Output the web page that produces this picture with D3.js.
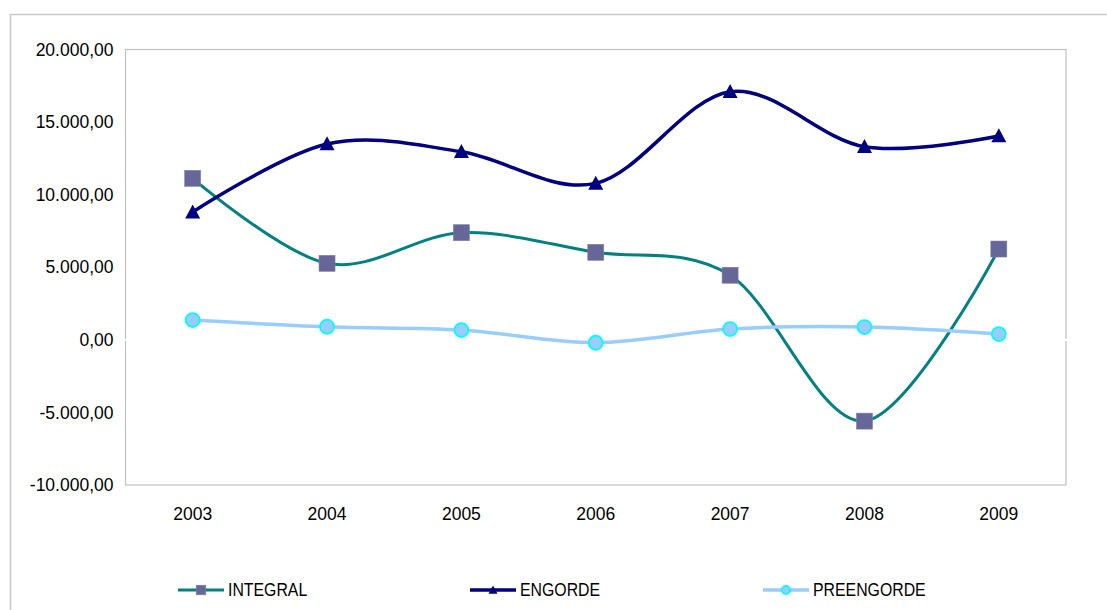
<!DOCTYPE html>
<html>
<head>
<meta charset="utf-8">
<script src="https://cdn.jsdelivr.net/npm/d3@7"></script>
<style>
  html, body { margin: 0; padding: 0; background: #fff; }
  svg { display: block; }
  text { font-family: Arial, "Liberation Sans", sans-serif; fill: #000; }
</style>
</head>
<body>
<svg id="chart" width="1107" height="610"></svg>
<script>
const years = ["2003", "2004", "2005", "2006", "2007", "2008", "2009"];
const integral   = [11125, 5270, 7380, 6030, 4450, -5600, 6255];
const engorde    = [8800, 13490, 12960, 10780, 17090, 13300, 14040];
const preengorde = [1364, 900, 675, -200, 744, 882, 400];
const yTicks = [-10000, -5000, 0, 5000, 10000, 15000, 20000];
const seriesNames = ["INTEGRAL", "ENGORDE", "PREENGORDE"];

const svg = d3.select("#chart");
const W = 1107, H = 610;
const plotLeft = 125.5, plotRight = 1066, plotTop = 49.5, plotBottom = 485;

const loc = d3.formatLocale({decimal: ",", thousands: ".", grouping: [3], currency: ["", ""], minus: "-"});
const fmt = loc.format(",.2f");

const x = d3.scaleBand().domain(years).range([plotLeft, plotRight]);
const y = d3.scaleLinear().domain([-10000, 20000]).range([plotBottom, plotTop]);
const cx = d => x(d) + x.bandwidth() / 2;

// outer frame
svg.append("rect").attr("x", 10.5).attr("y", 14.5).attr("width", W + 20).attr("height", H + 20)
  .attr("fill", "#fff").attr("stroke", "#c8c8c8").attr("stroke-width", 1.5);

// plot area border
svg.append("rect").attr("x", plotLeft).attr("y", plotTop).attr("width", plotRight - plotLeft).attr("height", plotBottom - plotTop)
  .attr("fill", "none").attr("stroke", "#c0c0c0").attr("stroke-width", 1.2);

// white category axis at zero
svg.append("line").attr("x1", plotLeft - 1).attr("x2", plotRight + 1).attr("y1", y(0)).attr("y2", y(0))
  .attr("stroke", "#fff").attr("stroke-width", 2);

// y axis labels
const yAxis = d3.axisLeft(y).tickValues(yTicks).tickFormat(fmt).tickSize(0).tickPadding(12);
const gy = svg.append("g").attr("transform", `translate(${plotLeft},0)`).call(yAxis);
gy.select(".domain").remove();
gy.selectAll("text").style("font-size", "17.5px").style("font-family", "Arial, 'Liberation Sans', sans-serif").attr("fill", "#111");

// x axis labels
const xAxis = d3.axisBottom(x).tickSize(0).tickPadding(23);
const gx = svg.append("g").attr("transform", `translate(0,${plotBottom})`).call(xAxis);
gx.select(".domain").remove();
gx.selectAll("text").style("font-size", "17.5px").style("font-family", "Arial, 'Liberation Sans', sans-serif").attr("fill", "#111");

const curve = d3.curveCatmullRom.alpha(0);
const line = d3.line().x((d, i) => cx(years[i])).y(d => y(d)).curve(curve);

const series = [
  {name: seriesNames[0], values: integral, color: "#008080", width: 3, marker: "square"},
  {name: seriesNames[1], values: engorde, color: "#000080", width: 3.5, marker: "triangle"},
  {name: seriesNames[2], values: preengorde, color: "#99CCFF", width: 3.5, marker: "circle"}
];

function drawMarker(g, type, px, py, scale) {
  scale = scale || 1;
  if (type === "square") {
    const s = 16 * scale;
    g.append("rect").attr("x", px - s / 2).attr("y", py - s / 2).attr("width", s).attr("height", s)
      .attr("fill", "#666699").attr("stroke", "#8080a8").attr("stroke-width", 0.6);
  } else if (type === "triangle") {
    const w = 15 * scale, h = 14 * scale;
    g.append("path").attr("d", `M${px},${py - h * 0.55}L${px + w / 2},${py + h * 0.45}L${px - w / 2},${py + h * 0.45}Z`)
      .attr("fill", "#000080");
  } else {
    g.append("circle").attr("cx", px).attr("cy", py).attr("r", 7 * scale)
      .attr("fill", "#99CCFF").attr("stroke", "#00FFFF").attr("stroke-width", 1.8);
  }
}

const plotG = svg.append("g");
[0, 1, 2].forEach(i => {
  const s = series[i];
  plotG.append("path").datum(s.values).attr("d", line)
    .attr("fill", "none").attr("stroke", s.color).attr("stroke-width", s.width)
    .attr("stroke-linejoin", "round");
});
[0, 1, 2].forEach(i => {
  const s = series[i];
  s.values.forEach((v, j) => drawMarker(plotG, s.marker, cx(years[j]), y(v)));
});

// legend
const legendX = [178, 470, 763];
const legendY = 590;
const lg = svg.append("g").attr("class", "legend");
series.forEach((s, i) => {
  const x0 = legendX[i];
  lg.append("line").attr("x1", x0).attr("x2", x0 + 46).attr("y1", legendY).attr("y2", legendY)
    .attr("stroke", s.color).attr("stroke-width", s.width);
  drawMarker(lg, s.marker, x0 + 23, legendY, 0.6);
  const t = lg.append("text").attr("x", x0 + 50).attr("y", legendY).attr("dy", "0.36em")
    .style("font-size", "18px").attr("fill", "#111").text(s.name);
  const natural = t.node().getComputedTextLength();
  t.attr("textLength", natural * 0.88).attr("lengthAdjust", "spacingAndGlyphs");
});
</script>
</body>
</html>
